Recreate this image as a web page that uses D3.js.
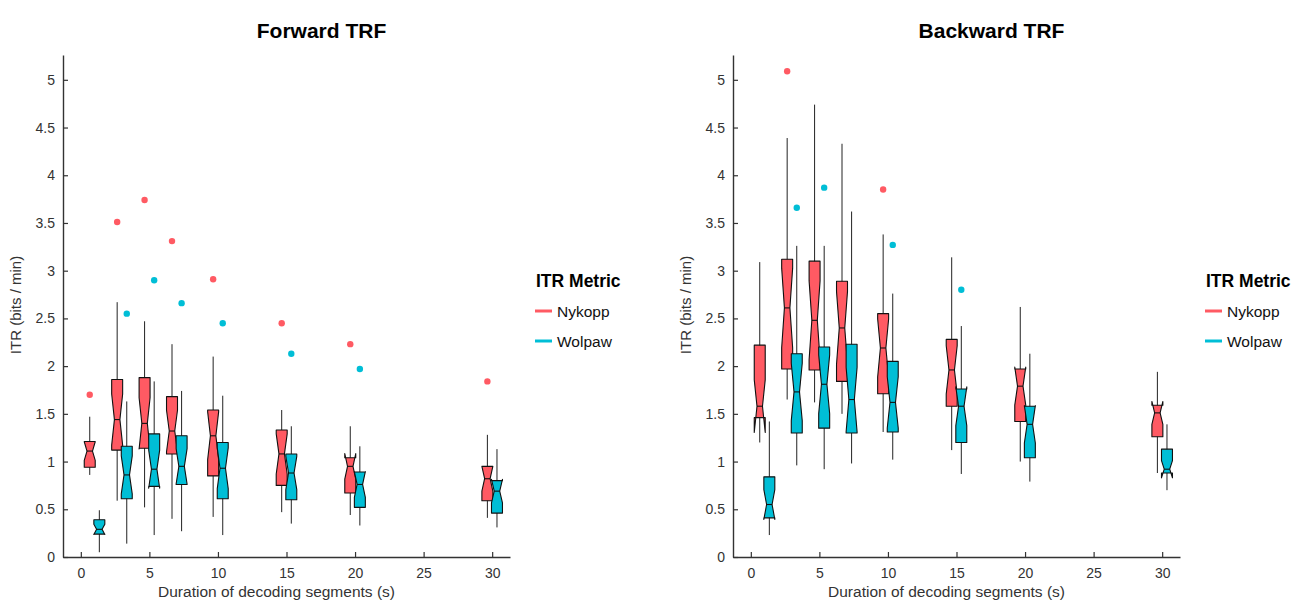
<!DOCTYPE html>
<html>
<head>
<meta charset="utf-8">
<script src="https://cdn.jsdelivr.net/npm/d3@7"></script>
<style>
  body { margin: 0; background: #fff; }
  svg { font-family: "Liberation Sans", Arial, sans-serif; }
</style>
</head>
<body>
<script>
// durations of decoding segments (s)
var durations = [1, 3, 5, 7, 10, 15, 20, 30];
var yTicks = [0, 0.5, 1, 1.5, 2, 2.5, 3, 3.5, 4, 4.5, 5];
var xTicks = [0, 5, 10, 15, 20, 25, 30];
var metrics = ['Nykopp', 'Wolpaw'];
var sampleSize = 19; // used for notch width

// [whisker low, q1, median, q3, whisker high] per duration
var fwdNykopp = [
  [0.86, 0.94, 1.11, 1.21, 1.47],
  [0.59, 1.12, 1.44, 1.86, 2.67],
  [0.52, 1.14, 1.40, 1.88, 2.47],
  [0.40, 1.08, 1.32, 1.68, 2.23],
  [0.42, 0.85, 1.27, 1.54, 2.10],
  [0.47, 0.75, 1.08, 1.33, 1.54],
  [0.44, 0.67, 0.95, 1.04, 1.37],
  [0.41, 0.59, 0.82, 0.95, 1.28]
];
var fwdWolpaw = [
  [0.05, 0.24, 0.29, 0.39, 0.49],
  [0.14, 0.61, 0.86, 1.16, 1.63],
  [0.23, 0.74, 0.92, 1.29, 1.84],
  [0.27, 0.76, 0.95, 1.27, 1.74],
  [0.23, 0.61, 0.93, 1.20, 1.69],
  [0.35, 0.60, 0.88, 1.08, 1.37],
  [0.33, 0.52, 0.76, 0.89, 1.16],
  [0.31, 0.46, 0.69, 0.80, 1.13]
];
var fwdNykoppOut = [1.70, 3.51, 3.74, 3.31, 2.91, 2.45, 2.23, 1.84];
var fwdWolpawOut = [null, 2.55, 2.90, 2.66, 2.45, 2.13, 1.97, null];

var bwdNykopp = [
  [1.20, 1.46, 1.58, 2.22, 3.09],
  [1.65, 1.97, 2.61, 3.12, 4.39],
  [1.62, 1.96, 2.48, 3.10, 4.74],
  [1.50, 1.84, 2.40, 2.89, 4.33],
  [1.31, 1.71, 2.19, 2.55, 3.38],
  [1.12, 1.58, 1.96, 2.28, 3.14],
  [1.00, 1.42, 1.79, 1.97, 2.62],
  [0.88, 1.26, 1.51, 1.59, 1.94]
];
var bwdWolpaw = [
  [0.23, 0.41, 0.55, 0.84, 1.42],
  [0.96, 1.30, 1.73, 2.13, 3.26],
  [0.92, 1.35, 1.81, 2.20, 3.26],
  [0.98, 1.30, 1.65, 2.23, 3.62],
  [1.02, 1.31, 1.62, 2.05, 2.76],
  [0.87, 1.20, 1.58, 1.76, 2.42],
  [0.79, 1.04, 1.39, 1.58, 2.13],
  [0.70, 0.88, 0.92, 1.13, 1.39]
];
var bwdNykoppOut = [null, 5.09, null, null, 3.85, null, null, null];
var bwdWolpawOut = [null, 3.66, 3.87, null, 3.27, 2.80, null, null];

var colors = ['#ff5a63', '#00bed6'];

var svg = d3.select('body').append('svg')
  .attr('width', 1293)
  .attr('height', 601);

function drawPanel(opts) {
  var right = opts.left + 447;
  var x = d3.scaleLinear().domain([-1.3, 31.3]).range([opts.left, right]);
  var y = d3.scaleLinear().domain([0, 5.26]).range([557, 55]);
  var g = svg.append('g');
  var dodge = 0.35, bw = x(0.8) - x(0);

  // title
  g.append('text')
    .attr('x', (opts.left + right) / 2 + 35)
    .attr('y', 38)
    .attr('text-anchor', 'middle')
    .attr('font-size', 21)
    .attr('font-weight', 'bold')
    .attr('fill', '#000')
    .text(opts.title);

  // axes, ticks pointing inward
  var yAxis = g.append('g')
    .attr('transform', 'translate(' + opts.left + ',0)')
    .call(d3.axisLeft(y).tickValues(yTicks).tickFormat(d3.format('~g'))
      .tickSizeInner(-5).tickSizeOuter(0).tickPadding(8));
  var xAxis = g.append('g')
    .attr('transform', 'translate(0,557)')
    .call(d3.axisBottom(x).tickValues(xTicks).tickSizeInner(-5).tickSizeOuter(0).tickPadding(8));
  [yAxis, xAxis].forEach(function(a) {
    a.select('.domain').attr('stroke', '#333').attr('stroke-width', 1.4);
    a.selectAll('.tick line').attr('stroke', '#333').attr('stroke-width', 1.2);
    a.selectAll('.tick text').attr('font-size', 14).attr('fill', '#333')
      .attr('font-family', '"Liberation Sans", Arial, sans-serif');
  });
  xAxis.selectAll('.tick text').attr('dy', '0.95em');

  g.append('text')
    .attr('transform', 'translate(' + (opts.left - 42) + ',305) rotate(-90)')
    .attr('text-anchor', 'middle')
    .attr('font-size', 15)
    .attr('fill', '#333')
    .text('ITR (bits / min)');
  g.append('text')
    .attr('x', (opts.left + right) / 2 - 10)
    .attr('y', 597)
    .attr('text-anchor', 'middle')
    .attr('font-size', 15.5)
    .attr('fill', '#333')
    .text('Duration of decoding segments (s)');

  opts.series.forEach(function(stats, si) {
    var off = si === 0 ? -dodge : dodge;
    var col = colors[si];
    var grp = g.append('g');
    durations.forEach(function(d, i) {
      var s = stats[i];
      var cx = x(d + off);
      var half = 1.58 * (s[3] - s[1]) / Math.sqrt(sampleSize);
      var nlo = s[2] - half, nhi = s[2] + half;
      grp.append('line')
        .attr('x1', cx).attr('x2', cx)
        .attr('y1', y(s[0])).attr('y2', y(s[4]))
        .attr('stroke', '#222').attr('stroke-width', 1);
      var pts = [
        [cx - bw / 2, y(s[1])], [cx - bw / 2, y(nlo)], [cx - bw / 4, y(s[2])],
        [cx - bw / 2, y(nhi)], [cx - bw / 2, y(s[3])], [cx + bw / 2, y(s[3])],
        [cx + bw / 2, y(nhi)], [cx + bw / 4, y(s[2])], [cx + bw / 2, y(nlo)],
        [cx + bw / 2, y(s[1])]
      ];
      grp.append('path')
        .attr('d', d3.line()(pts) + 'Z')
        .attr('fill', col)
        .attr('stroke', '#111')
        .attr('stroke-width', 1.1)
        .attr('stroke-linejoin', 'round');
      grp.append('line')
        .attr('x1', cx - bw / 4).attr('x2', cx + bw / 4)
        .attr('y1', y(s[2])).attr('y2', y(s[2]))
        .attr('stroke', '#111').attr('stroke-width', 1.1);
    });
    grp.selectAll('circle')
      .data(opts.outliers[si].map(function(v, i) { return { d: durations[i], v: v }; })
        .filter(function(o) { return o.v !== null; }))
      .enter()
      .append('circle')
      .attr('cx', function(o) { return x(o.d + off); })
      .attr('cy', function(o) { return y(o.v); })
      .attr('r', 3.2)
      .attr('fill', col);
  });

  // legend
  var lx = opts.left + 473;
  g.append('text')
    .attr('x', lx).attr('y', 287)
    .attr('font-size', 17.5).attr('font-weight', 'bold').attr('fill', '#000')
    .text('ITR Metric');
  metrics.forEach(function(m, i) {
    var ly = 311 + i * 30;
    g.append('line')
      .attr('x1', lx - 1).attr('x2', lx + 16)
      .attr('y1', ly).attr('y2', ly)
      .attr('stroke', colors[i]).attr('stroke-width', 3);
    g.append('text')
      .attr('x', lx + 21).attr('y', ly + 5.5)
      .attr('font-size', 15.5).attr('fill', '#111')
      .text(m);
  });
}

drawPanel({
  left: 63, title: 'Forward TRF',
  series: [fwdNykopp, fwdWolpaw],
  outliers: [fwdNykoppOut, fwdWolpawOut]
});
drawPanel({
  left: 733, title: 'Backward TRF',
  series: [bwdNykopp, bwdWolpaw],
  outliers: [bwdNykoppOut, bwdWolpawOut]
});
</script>
</body>
</html>
